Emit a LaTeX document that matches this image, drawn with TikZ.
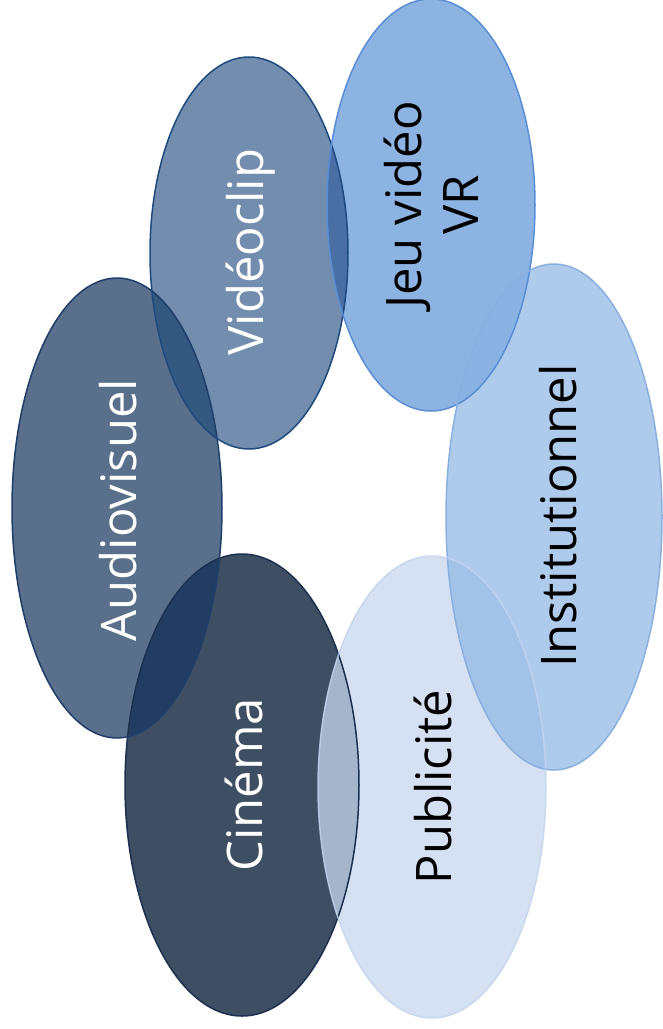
\documentclass[tikz,border=0pt]{standalone}
\usepackage{fontspec}
\setmainfont{Open Sans}
\definecolor{cinF}{HTML}{3E4E63}\definecolor{cinD}{HTML}{1C3050}
\definecolor{audF}{HTML}{5A6F8C}\definecolor{audD}{HTML}{1F3F6A}
\definecolor{vidF}{HTML}{728DAE}\definecolor{vidD}{HTML}{1F4A7E}
\definecolor{jeuF}{HTML}{8DB3E2}\definecolor{jeuD}{HTML}{5A8ED4}
\definecolor{insF}{HTML}{AFCBEC}\definecolor{insD}{HTML}{8AB0E0}
\definecolor{pubF}{HTML}{D5E1F2}\definecolor{pubD}{HTML}{C2D4EE}
\definecolor{oCA}{HTML}{233D62}
\definecolor{oAV}{HTML}{34587F}
\definecolor{oVJ}{HTML}{4A6FA5}
\definecolor{oJI}{HTML}{8AB2E3}
\definecolor{oIP}{HTML}{A3C2E8}
\definecolor{oPC}{HTML}{A5B5CC}
\begin{document}
\begin{tikzpicture}[x=1pt,y=-1pt,
  lbl/.style={rotate=90,font=\fontsize{49}{57}\selectfont,align=center,inner sep=0pt},
  rim/.style={line width=1.5pt}]
\def\eCin{(242,785) ellipse [x radius=117, y radius=231]}
\def\eAud{(117,508) ellipse [x radius=105, y radius=230]}
\def\eVid{(249,253) ellipse [x radius=99, y radius=196]}
\def\eJeu{(431,205) ellipse [x radius=104, y radius=206]}
\def\eIns{(554,517) ellipse [x radius=108, y radius=253]}
\def\ePub{(432,787) ellipse [x radius=114, y radius=231]}
\fill[white] (0,0) rectangle (662,1029);
\useasboundingbox (0,0) rectangle (662,1029);
% base fills
\fill[cinF] \eCin; \fill[audF] \eAud; \fill[vidF] \eVid;
\fill[jeuF] \eJeu; \fill[insF] \eIns; \fill[pubF] \ePub;
% overlaps
\begin{scope}\clip \eCin; \fill[oCA] \eAud;\end{scope}
\begin{scope}\clip \eAud; \fill[oAV] \eVid;\end{scope}
\begin{scope}\clip \eVid; \fill[oVJ] \eJeu;\end{scope}
\begin{scope}\clip \eJeu; \fill[oJI] \eIns;\end{scope}
\begin{scope}\clip \eIns; \fill[oIP] \ePub;\end{scope}
\begin{scope}\clip \ePub; \fill[oPC] \eCin;\end{scope}
% rims
\draw[rim,cinD] \eCin; \draw[rim,audD] \eAud; \draw[rim,vidD] \eVid;
\draw[rim,jeuD] \eJeu; \draw[rim,insD] \eIns; \draw[rim,pubD,opacity=0.8] \ePub;
% labels
\node[lbl,white] (cin) at (244,785) {Cinéma};
\node[lbl,white] (aud) at (118,510) {Audiovisuel};
\node[lbl,white] (vid) at (251,252) {Vidéoclip};
\node[lbl,black] (jeu) at (431,205) {Jeu vidéo\\VR};
\node[lbl,black] (ins) at (558,516) {Institutionnel};
\node[lbl,black] (pub) at (433,787) {Publicité};
\end{tikzpicture}
\end{document}
